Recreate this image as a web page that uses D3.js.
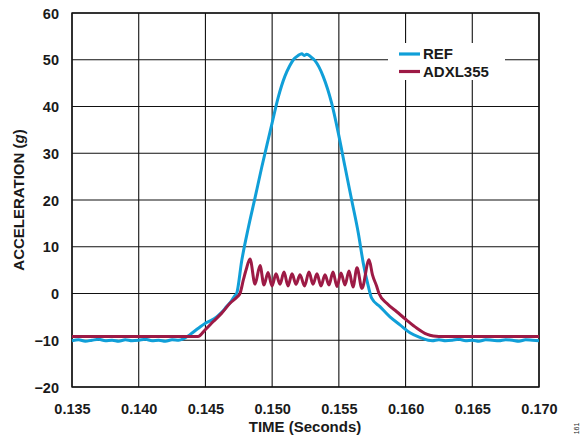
<!DOCTYPE html>
<html>
<head>
<meta charset="utf-8">
<script src="https://cdn.jsdelivr.net/npm/d3@7/dist/d3.min.js"></script>
<style>
  html, body { margin: 0; padding: 0; background: #fff; }
  svg { display: block; }
  text { font-family: "Liberation Sans", Arial, sans-serif; font-weight: bold; fill: #1a1a1a; }
</style>
</head>
<body>
<svg id="chart" width="580" height="444"></svg>
<script>
// ---------- DATA ----------
const xTicks = [0.135, 0.140, 0.145, 0.150, 0.155, 0.160, 0.165, 0.170];
const xTickLabels = ["0.135", "0.140", "0.145", "0.150", "0.155", "0.160", "0.165", "0.170"];
const yTicks = [-20, -10, 0, 10, 20, 30, 40, 50, 60];
const yTickLabels = ["\u221220", "\u221210", "0", "10", "20", "30", "40", "50", "60"];
const seriesNames = ["REF", "ADXL355"];

const refTime = [
  0.1350, 0.1355, 0.1360, 0.1365, 0.1370, 0.1375, 0.1380, 0.1385, 0.1390, 0.1395,
  0.1400, 0.1405, 0.1410, 0.1415, 0.1420, 0.1425, 0.1430, 0.14335, 0.14384, 0.14444,
  0.14497, 0.14540, 0.14584, 0.14620, 0.14659, 0.14695, 0.14722, 0.14734, 0.14772, 0.14821,
  0.14872, 0.14922, 0.14971, 0.15000, 0.15046, 0.15096, 0.15130, 0.15159, 0.15195, 0.15222,
  0.15240, 0.15259, 0.15290, 0.15321, 0.15383, 0.15446, 0.15496, 0.15546, 0.15596, 0.15646,
  0.15683, 0.15721, 0.15746, 0.15808, 0.15883, 0.15958, 0.16033, 0.16108, 0.16170, 0.1620,
  0.1625, 0.1630, 0.1635, 0.1640, 0.1645, 0.1650, 0.1655, 0.1660, 0.1665, 0.1670,
  0.1675, 0.1680, 0.1685, 0.1690, 0.1695, 0.1700
];
const refAccel = [
  -10.1, -9.9, -10.2, -10.0, -9.8, -10.1, -10.0, -10.2, -9.9, -10.1,
  -10.0, -9.8, -10.1, -10.0, -10.2, -9.9, -10.0, -9.7, -8.8, -7.5,
  -6.4, -5.8, -5.0, -4.1, -2.8, -1.6, -0.4, 0.0, 7.0, 14.0,
  20.5, 27.0, 33.0, 36.5, 42.0, 46.5, 48.6, 50.0, 50.9, 51.3,
  50.9, 51.2, 50.6, 49.8, 46.4, 40.7, 34.3, 27.1, 20.0, 12.9,
  6.5, 1.5, -1.0, -2.8, -5.0, -6.7, -8.4, -9.4, -10.0, -10.1,
  -9.9, -10.1, -10.0, -9.8, -10.1, -10.0, -10.2, -9.9, -10.0, -10.1,
  -9.9, -10.0, -10.2, -9.9, -10.0, -10.1
];

const adxlTime = [
  0.1350, 0.14444, 0.14497, 0.14559, 0.14622, 0.14684, 0.14739, 0.14759, 0.14785, 0.14806,
  0.14834, 0.14872, 0.14909, 0.14939, 0.14969, 0.14999, 0.15029, 0.15059, 0.15089, 0.15119,
  0.15149, 0.15179, 0.15209, 0.15243, 0.15276, 0.15306, 0.15336, 0.15366, 0.15396, 0.15426,
  0.15456, 0.15486, 0.15516, 0.15546, 0.15576, 0.15606, 0.15636, 0.15673, 0.15726, 0.15752,
  0.15784, 0.15801, 0.15859, 0.15934, 0.16008, 0.16083, 0.16158, 0.16208, 0.16250, 0.1700
];
const adxlAccel = [
  -9.2, -9.2, -7.8, -6.0, -4.2, -2.1, -0.7, 0.0, 3.0, 5.2,
  7.4, 2.0, 6.0, 1.8, 4.5, 1.6, 4.2, 2.0, 4.6, 1.6,
  4.2, 2.0, 4.0, 1.6, 4.6, 2.0, 4.2, 1.6, 4.0, 1.8,
  4.6, 1.5, 4.4, 1.8, 4.8, 1.4, 5.5, 1.1, 7.2, 4.0,
  1.5, 0.0, -2.1, -3.9, -5.7, -7.4, -8.7, -9.1, -9.2, -9.2
];

// ---------- LAYOUT ----------
const svg = d3.select("#chart");
const W = 580, H = 444;
const plot = { left: 72, right: 539, top: 13, bottom: 387 };
const colors = { ref: "#109fd8", adxl: "#9d1a45" };

svg.append("rect").attr("width", W).attr("height", H).attr("fill", "#fff");

const x = d3.scaleLinear().domain([0.135, 0.170]).range([plot.left, plot.right]);
const y = d3.scaleLinear().domain([-20, 60]).range([plot.bottom, plot.top]);

// grid
const grid = svg.append("g");
grid.selectAll("line.v").data(xTicks).join("line")
  .attr("x1", d => x(d)).attr("x2", d => x(d))
  .attr("y1", plot.top).attr("y2", plot.bottom)
  .attr("stroke", "#111").attr("stroke-width", 1.1);
grid.selectAll("line.h").data(yTicks).join("line")
  .attr("x1", plot.left).attr("x2", plot.right)
  .attr("y1", d => y(d)).attr("y2", d => y(d))
  .attr("stroke", "#111").attr("stroke-width", 1.1);
svg.append("rect")
  .attr("x", plot.left).attr("y", plot.top)
  .attr("width", plot.right - plot.left).attr("height", plot.bottom - plot.top)
  .attr("fill", "none").attr("stroke", "#111").attr("stroke-width", 1.4);

// axes labels via d3 axes (no domain/ticks lines)
const xAxis = d3.axisBottom(x).tickValues(xTicks).tickSize(0).tickPadding(0)
  .tickFormat((d, i) => xTickLabels[i]);
const gx = svg.append("g").attr("transform", `translate(0,${plot.bottom})`).call(xAxis);
gx.select(".domain").remove();
gx.selectAll("text").attr("dy", null).attr("y", 27)
  .style("font-family", '"Liberation Sans", Arial, sans-serif')
  .style("font-weight", "bold").style("font-size", "14.5px").attr("fill", "#1a1a1a");

const yAxis = d3.axisLeft(y).tickValues(yTicks).tickSize(0).tickPadding(13)
  .tickFormat((d, i) => yTickLabels[i]);
const gy = svg.append("g").attr("transform", `translate(${plot.left},0)`).call(yAxis);
gy.select(".domain").remove();
gy.selectAll("text").attr("dy", "0.36em")
  .style("font-family", '"Liberation Sans", Arial, sans-serif')
  .style("font-weight", "bold").style("font-size", "14.5px").attr("fill", "#1a1a1a");

// axis titles
svg.append("text").attr("x", 305).attr("y", 431.5).attr("text-anchor", "middle")
  .style("font-size", "15px").text("TIME (Seconds)");
const yt = svg.append("text").attr("transform", "translate(24,200) rotate(-90)")
  .attr("text-anchor", "middle").style("font-size", "15px");
yt.append("tspan").text("ACCELERATION (");
yt.append("tspan").style("font-style", "italic").text("g");
yt.append("tspan").text(")");

// figure number
svg.append("text").attr("transform", "translate(578.5,428.5) rotate(-90)")
  .attr("text-anchor", "middle").style("font-size", "7px").style("font-weight", "normal")
  .attr("fill", "#555").text("161");

// legend box (white, hides grid)
svg.append("rect").attr("x", 388).attr("y", 43).attr("width", 117).attr("height", 37).attr("fill", "#fff");
const legend = [
  { name: seriesNames[0], color: colors.ref, y: 54 },
  { name: seriesNames[1], color: colors.adxl, y: 71.5 }
];
legend.forEach(l => {
  svg.append("line").attr("x1", 399).attr("x2", 420).attr("y1", l.y).attr("y2", l.y)
    .attr("stroke", l.color).attr("stroke-width", 3.2);
  svg.append("text").attr("x", 423).attr("y", l.y + 5.3).style("font-size", "15px").text(l.name);
});

// lines
const line = d3.line().x(d => x(d[0])).y(d => y(d[1])).curve(d3.curveMonotoneX);
const refData = refTime.map((t, i) => [t, refAccel[i]]);
const adxlData = adxlTime.map((t, i) => [t, adxlAccel[i]]);

svg.append("path").datum(refData).attr("d", line)
  .attr("fill", "none").attr("stroke", colors.ref).attr("stroke-width", 3)
  .attr("stroke-linejoin", "round");
svg.append("path").datum(adxlData).attr("d", line)
  .attr("fill", "none").attr("stroke", colors.adxl).attr("stroke-width", 3)
  .attr("stroke-linejoin", "round");
</script>
</body>
</html>
